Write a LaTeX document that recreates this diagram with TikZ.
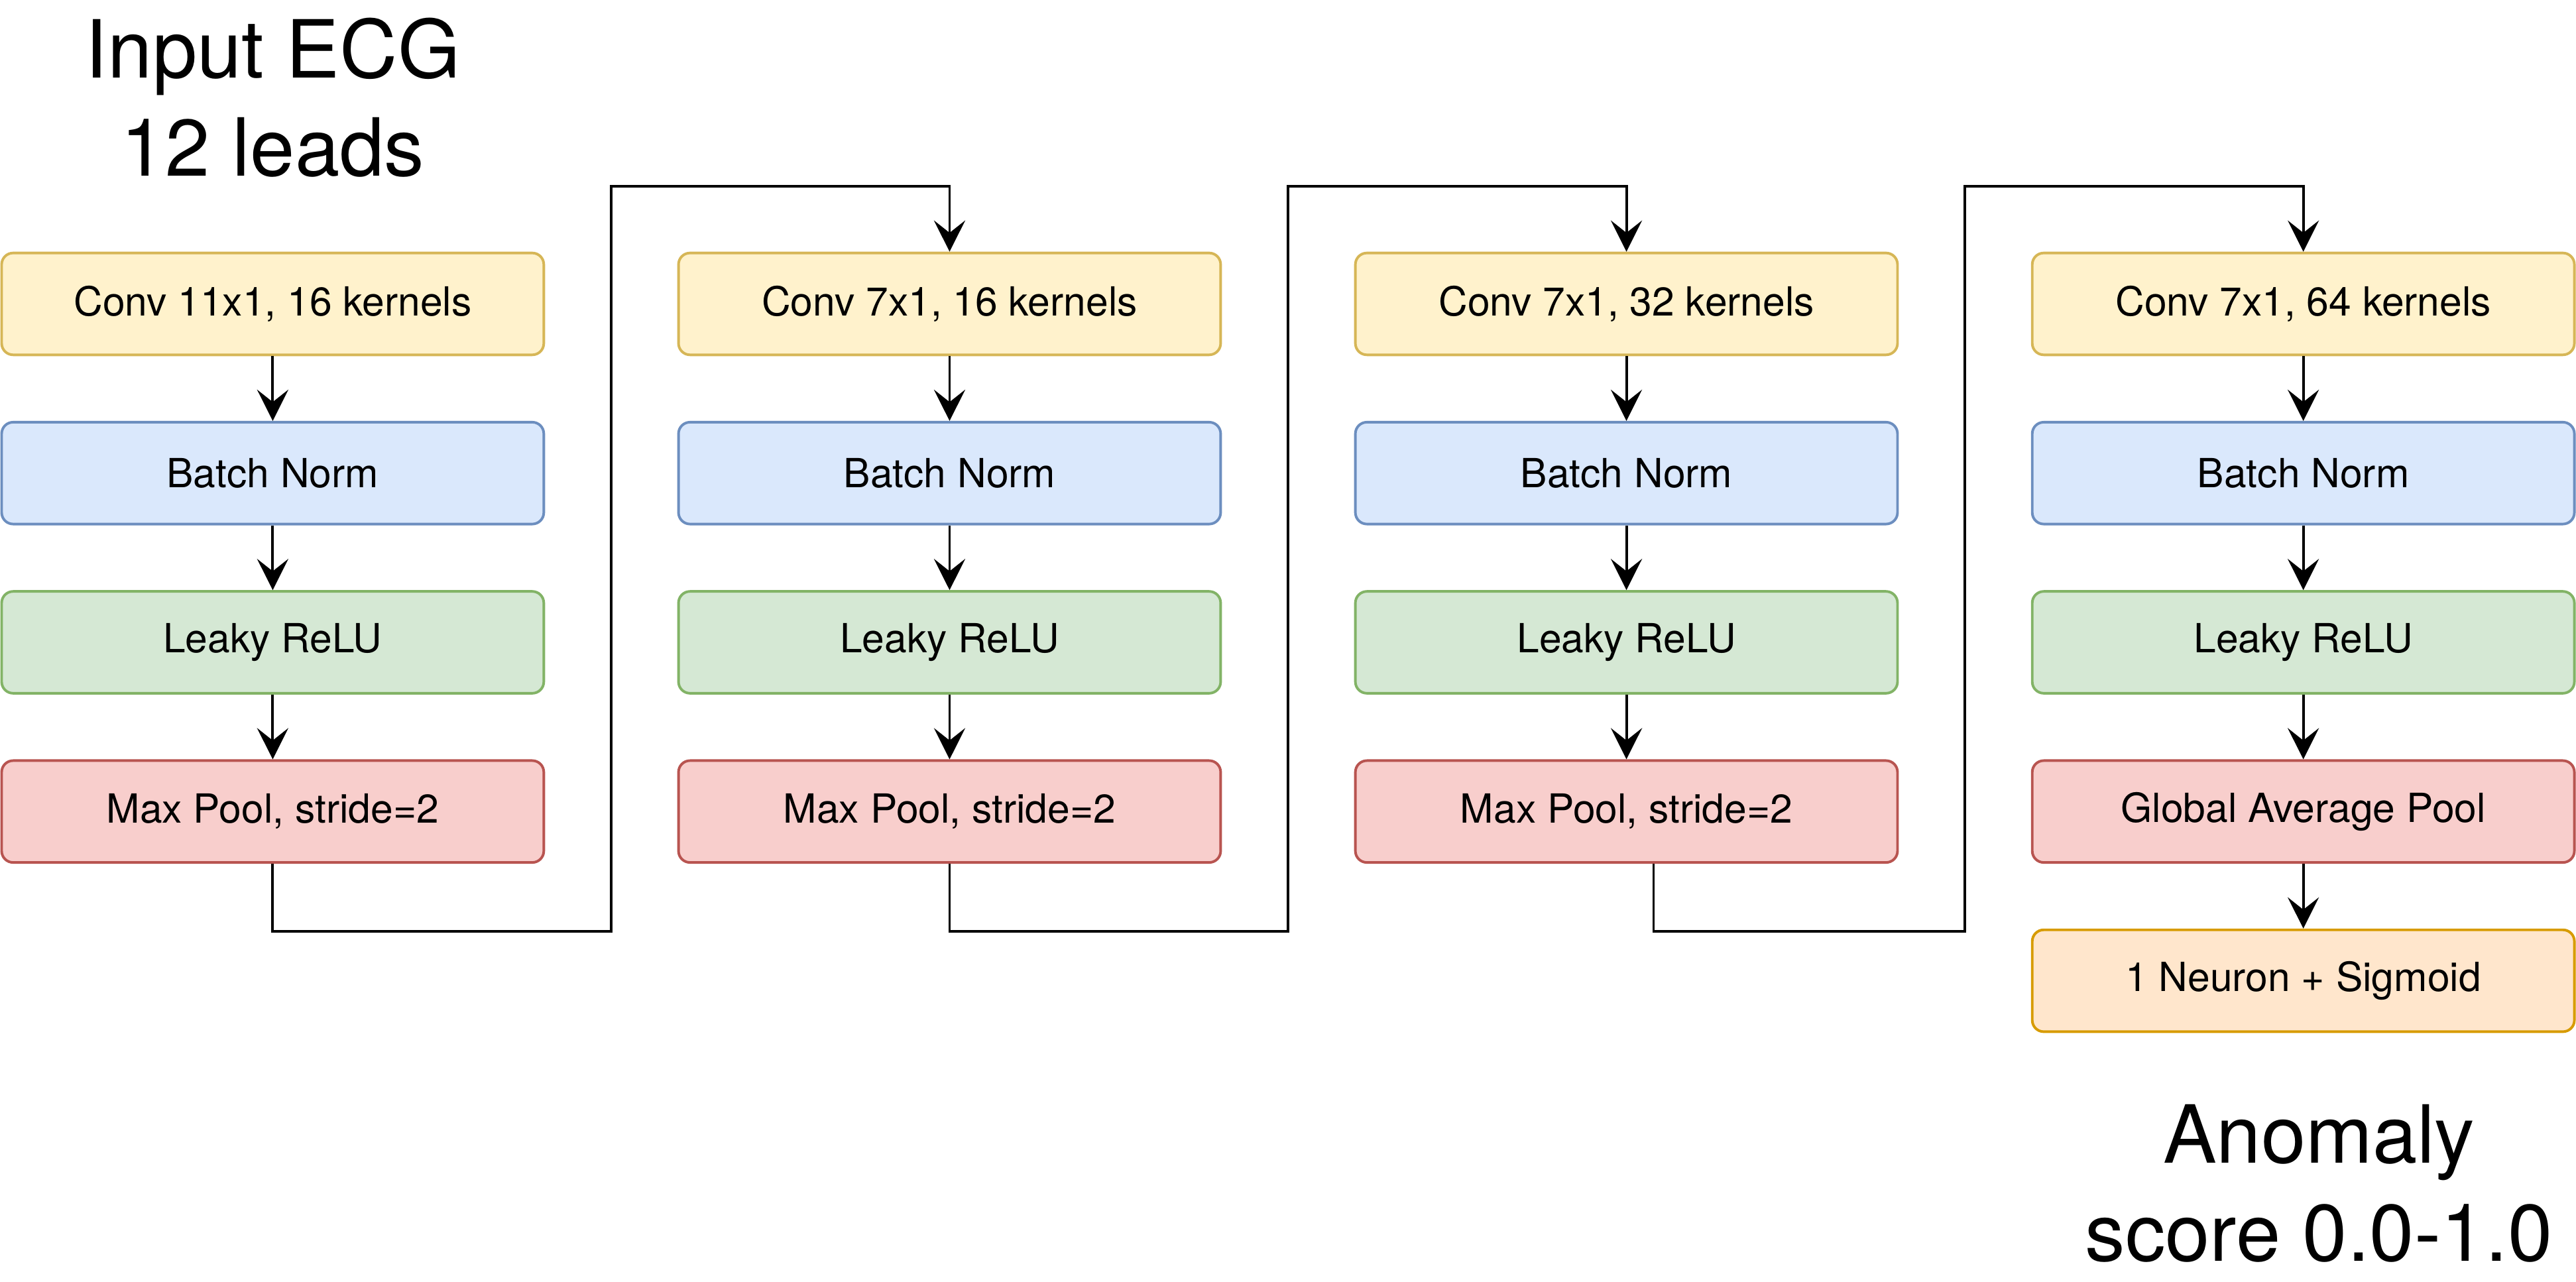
\documentclass[tikz,border=0pt]{standalone}
\usepackage{fontspec}
\setmainfont{TeX Gyre Heros}
\usetikzlibrary{arrows.meta}

\definecolor{convfill}{HTML}{FFF2CC}
\definecolor{convline}{HTML}{D6B656}
\definecolor{normfill}{HTML}{DAE8FC}
\definecolor{normline}{HTML}{6C8EBF}
\definecolor{relufill}{HTML}{D5E8D4}
\definecolor{reluline}{HTML}{82B366}
\definecolor{poolfill}{HTML}{F8CECC}
\definecolor{poolline}{HTML}{B85450}
\definecolor{outfill}{HTML}{FFE6CC}
\definecolor{outline}{HTML}{D79B00}

\newcommand{\boxfont}{\fontsize{13.9}{16.7}\selectfont}
\newcommand{\bigfont}{\fontsize{27.8}{33.8}\selectfont}

\tikzset{
	layer/.style={rounded corners=0.14cm, minimum width=6.6cm, minimum height=1.24cm, line width=0.9pt, font=\boxfont},
	conv/.style={layer, fill=convfill, draw=convline},
	norm/.style={layer, fill=normfill, draw=normline},
	relu/.style={layer, fill=relufill, draw=reluline},
	pool/.style={layer, fill=poolfill, draw=poolline},
	outp/.style={layer, fill=outfill, draw=outline},
	arr/.style={-{Stealth[length=0.38cm, width=0.38cm, inset=0.15cm]}, line width=0.9pt},
	link/.style={line width=0.9pt}
}

\begin{document}
\begin{tikzpicture}
	\useasboundingbox (0,0) rectangle (31.36,-15.6);

	\begin{scope}[xshift=3.32cm]
		\node[font=\bigfont, align=center, anchor=base] (inp) at (0,-2.14) {Input ECG\\12 leads};
		\node[conv] (conv1) at (0,-3.70) {Conv 11x1, 16 kernels};
		\node[norm] (bn1) at (0,-5.76) {Batch Norm};
		\node[relu] (lr1) at (0,-7.82) {Leaky ReLU};
		\node[pool] (mp1) at (0,-9.88) {Max Pool, stride=2};
		\draw[arr] (conv1) -- (bn1);
		\draw[arr] (bn1) -- (lr1);
		\draw[arr] (lr1) -- (mp1);
	\end{scope}

	\begin{scope}[xshift=11.56cm]
		\node[conv] (conv2) at (0,-3.70) {Conv 7x1, 16 kernels};
		\node[norm] (bn2) at (0,-5.76) {Batch Norm};
		\node[relu] (lr2) at (0,-7.82) {Leaky ReLU};
		\node[pool] (mp2) at (0,-9.88) {Max Pool, stride=2};
		\draw[arr] (conv2) -- (bn2);
		\draw[arr] (bn2) -- (lr2);
		\draw[arr] (lr2) -- (mp2);
	\end{scope}

	\begin{scope}[xshift=19.80cm]
		\node[conv] (conv3) at (0,-3.70) {Conv 7x1, 32 kernels};
		\node[norm] (bn3) at (0,-5.76) {Batch Norm};
		\node[relu] (lr3) at (0,-7.82) {Leaky ReLU};
		\node[pool] (mp3) at (0,-9.88) {Max Pool, stride=2};
		\draw[arr] (conv3) -- (bn3);
		\draw[arr] (bn3) -- (lr3);
		\draw[arr] (lr3) -- (mp3);
	\end{scope}

	\begin{scope}[xshift=28.04cm]
		\node[conv] (conv4) at (0,-3.70) {Conv 7x1, 64 kernels};
		\node[norm] (bn4) at (0,-5.76) {Batch Norm};
		\node[relu] (lr4) at (0,-7.82) {Leaky ReLU};
		\node[pool] (gap) at (0,-9.88) {Global Average Pool};
		\node[outp] (sig) at (0,-11.94) {1 Neuron + Sigmoid};
		\node[font=\bigfont, align=center, anchor=base] (score) at (0.19,-15.35) {Anomaly\\score 0.0-1.0};
		\draw[arr] (conv4) -- (bn4);
		\draw[arr] (bn4) -- (lr4);
		\draw[arr] (lr4) -- (gap);
		\draw[arr] (gap) -- (sig);
	\end{scope}

	% block to block
	\draw[arr] (mp1.south) |- ++(4.12,-0.82) -- ++(0,9.07) -| (conv2.north);
	\draw[arr] (mp2.south) |- ++(4.12,-0.82) -- ++(0,9.07) -| (conv3.north);
	\draw[arr] ([xshift=0.33cm]mp3.south) |- ++(3.79,-0.82) -- ++(0,9.07) -| (conv4.north);
\end{tikzpicture}
\end{document}
